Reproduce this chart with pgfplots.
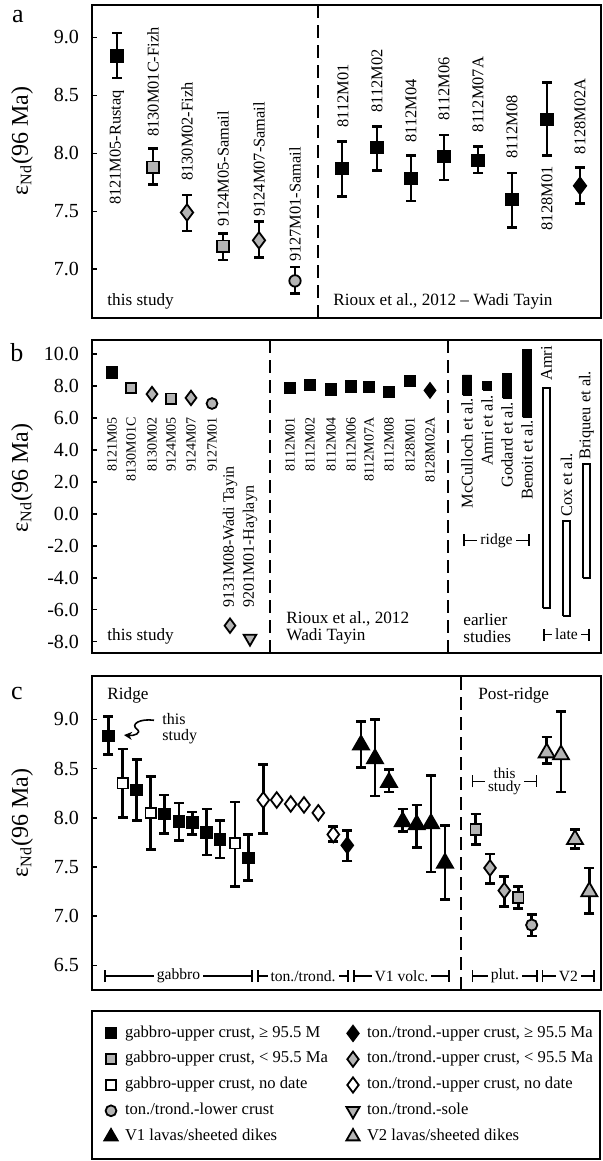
\documentclass[border=0pt]{standalone}
\usepackage{pgfplots}
\pgfplotsset{compat=1.18}
\usepackage{fontspec}
\setmainfont{Liberation Serif}
\usetikzlibrary{arrows.meta}
\definecolor{mygray}{RGB}{180,180,180}
\newcommand\fsz[2]{\fontsize{#1}{#2}\selectfont}
\pgfplotsset{
  panel/.style={
    scale only axis, width=254.5pt, anchor=south west,
    xmin=92, xmax=601, xtick=\empty, clip=false,
    axis line style={line width=1pt},
    ytick pos=left, tick align=inside, major tick length=2.5pt,
    tick style={black, line width=0.8pt},
    yticklabel style={font=\fsz{10}{12}, xshift=-3pt},
    ylabel={ε\textsubscript{Nd}(96 Ma)},
  },
  eb/.style={error bars/.cd, y dir=both, y explicit,
     error bar style={line width=1.3pt},
     error mark options={line width=1.3pt, mark size=2.5pt, rotate=90}},
  mk/.style 2 args={only marks, black, mark=#1, mark options={solid, fill=#2, draw=black, line width=0.9pt}},
}
\newcommand\brk[4]{\draw[line width=0.8pt, {Bar[width=6pt]}-{Bar[width=6pt]}] (axis cs:#1,#3) -- (axis cs:#2,#3) node[midway, fill=white, inner xsep=1.5pt, inner ysep=0pt, font=\fsz{7.8}{8}] {#4};}
\newcommand\vl[2]{\node[rotate=90, anchor=west, inner sep=0pt, font=\fsz{#2}{#2}] at #1;}
\begin{document}
\begin{tikzpicture}
\useasboundingbox (0,0) rectangle (301.5pt,580.5pt);
\node[font=\fsz{13}{13}] at (9pt,572pt) {a};
\node[font=\fsz{13}{13}] at (8.5pt,404pt) {b};
\node[font=\fsz{13}{13}] at (8.5pt,233.5pt) {c};

% ---------------- panel a
\begin{axis}[panel, at={(46pt,421.5pt)}, height=156.5pt,
  ymin=6.58, ymax=9.28, ytick={7,7.5,8,8.5,9}, yticklabels={7.0,7.5,8.0,8.5,9.0},
  ylabel style={font=\fsz{12}{14}, at={(axis description cs:-0.1375,0.565)}, anchor=center}]
\draw[line width=1.1pt, dash pattern=on 6.5pt off 3.5pt] (axis cs:318,6.58) -- (axis cs:318,9.28);
\addplot[mk={square*}{black}, mark size=2.85pt, eb] coordinates {
 (117,8.84) += (0,0.20) -= (0,0.19)
 (342,7.87) += (0,0.23) -= (0,0.24)
 (377,8.05) += (0,0.18) -= (0,0.20)
 (411,7.78) += (0,0.20) -= (0,0.19)
 (444,7.97) += (0,0.19) -= (0,0.20)
 (478,7.94) += (0,0.12) -= (0,0.11)
 (512,7.60) += (0,0.23) -= (0,0.24)
 (547,8.29) += (0,0.32) -= (0,0.31)
};
\addplot[mk={square*}{mygray}, mark size=2.85pt, eb] coordinates {
 (153,7.88) += (0,0.16) -= (0,0.15)
 (223,7.20) += (0,0.11) -= (0,0.12)
};
\addplot[mk={diamond*}{mygray}, mark size=4.1pt, eb] coordinates {
 (187,7.49) += (0,0.15) -= (0,0.16)
 (259,7.25) += (0,0.16) -= (0,0.15)
};
\addplot[mk={*}{mygray}, mark size=2.85pt, eb] coordinates {
 (295,6.90) += (0,0.12) -= (0,0.11)
};
\addplot[mk={diamond*}{black}, mark size=4.1pt, eb] coordinates {
 (580,7.72) += (0,0.16) -= (0,0.15)
};
\node[rotate=90, anchor=east, inner sep=0pt, font=\fsz{8.2}{9}] at (axis cs:117,8.55) {8121M05-Rustaq};
\vl{(axis cs:153,8.14) {8130M01C-Fizh}}{8.2}
\vl{(axis cs:187,7.76) {8130M02-Fizh}}{8.2}
\vl{(axis cs:223,7.37) {9124M05-Samail}}{8.2}
\vl{(axis cs:259,7.45) {9124M07-Samail}}{8.2}
\vl{(axis cs:295,7.06) {9127M01-Samail}}{8.2}
\vl{(axis cs:343,8.22) {8112M01}}{8.2}
\vl{(axis cs:377,8.35) {8112M02}}{8.2}
\vl{(axis cs:411,8.09) {8112M04}}{8.2}
\vl{(axis cs:444,8.28) {8112M06}}{8.2}
\vl{(axis cs:478,8.18) {8112M07A}}{8.2}
\vl{(axis cs:512,7.95) {8112M08}}{8.2}
\node[rotate=90, anchor=east, inner sep=0pt, font=\fsz{8.2}{9}] at (axis cs:547,7.89) {8128M01};
\vl{(axis cs:580,7.99) {8128M02A}}{8.2}
\node[anchor=west, inner sep=0pt, font=\fsz{8.6}{9}] at (axis cs:107,6.72) {this study};
\node[anchor=west, inner sep=0pt, font=\fsz{8.6}{9}] at (axis cs:333,6.72) {Rioux et al., 2012 – Wadi Tayin};
\end{axis}

% ---------------- panel b
\begin{axis}[panel, at={(46pt,254pt)}, height=156.5pt,
  ymin=-8.71, ymax=10.875, ytick={-8,-6,-4,-2,0,2,4,6,8,10},
  yticklabels={-8.0,-6.0,-4.0,-2.0,0.0,2.0,4.0,6.0,8.0,10.0},
  ylabel style={font=\fsz{12}{14}, at={(axis description cs:-0.1375,0.559)}, anchor=center}]
\draw[line width=1.1pt, dash pattern=on 6.5pt off 3.5pt] (axis cs:270,-8.71) -- (axis cs:270,10.875);
\draw[line width=1.1pt, dash pattern=on 6.5pt off 3.5pt] (axis cs:448,-8.71) -- (axis cs:448,10.875);
\addplot[mk={square*}{black}, mark size=2.6pt] coordinates {
 (112,8.84) (290,7.87) (310,8.05) (331,7.78) (351,7.97) (369,7.94) (389,7.60) (410,8.29)};
\addplot[mk={square*}{mygray}, mark size=2.6pt] coordinates {(131,7.88) (171,7.20)};
\addplot[mk={diamond*}{mygray}, mark size=3.6pt] coordinates {(152,7.49) (191,7.25) (230,-7.0)};
\addplot[mk={*}{mygray}, mark size=2.7pt] coordinates {(212,6.90)};
\addplot[only marks, black, mark=triangle*, mark size=3.6pt, mark options={solid, fill=mygray, draw=black, line width=0.9pt, rotate=180}] coordinates {(250,-7.8)};
\addplot[mk={diamond*}{black}, mark size=3.6pt] coordinates {(430,7.72)};
% earlier studies
\addplot[black, fill=black, line width=0.3pt] coordinates {(462.5,7.43) (471.5,7.43) (471.5,8.69) (462.5,8.69) (462.5,7.43)};
\addplot[black, fill=black, line width=0.3pt] coordinates {(482.5,7.75) (491.5,7.75) (491.5,8.27) (482.5,8.27) (482.5,7.75)};
\addplot[black, fill=black, line width=0.3pt] coordinates {(502.5,7.23) (511.5,7.23) (511.5,8.79) (502.5,8.79) (502.5,7.23)};
\addplot[black, fill=black, line width=0.3pt] coordinates {(522.5,6.04) (531.5,6.04) (531.5,10.29) (522.5,10.29) (522.5,6.04)};
\addplot[black, fill=white, line width=0.9pt, line join=miter] coordinates {(543.2,-5.88) (549.8,-5.88) (549.8,7.85) (543.2,7.85) (543.2,-5.88)};
\addplot[black, fill=white, line width=0.9pt, line join=miter] coordinates {(563.2,-6.40) (569.8,-6.40) (569.8,-0.43) (563.2,-0.43) (563.2,-6.40)};
\addplot[black, fill=white, line width=0.9pt, line join=miter] coordinates {(583.2,-4.03) (589.8,-4.03) (589.8,3.12) (583.2,3.12) (583.2,-4.03)};
\node[rotate=90, anchor=east, inner sep=0pt, font=\fsz{7}{8}] at (axis cs:112,6.05) {8121M05};
\node[rotate=90, anchor=east, inner sep=0pt, font=\fsz{7}{8}] at (axis cs:131,6.05) {8130M01C};
\node[rotate=90, anchor=east, inner sep=0pt, font=\fsz{7}{8}] at (axis cs:152,6.05) {8130M02};
\node[rotate=90, anchor=east, inner sep=0pt, font=\fsz{7}{8}] at (axis cs:171,6.05) {9124M05};
\node[rotate=90, anchor=east, inner sep=0pt, font=\fsz{7}{8}] at (axis cs:191,6.05) {9124M07};
\node[rotate=90, anchor=east, inner sep=0pt, font=\fsz{7}{8}] at (axis cs:212,6.05) {9127M01};
\node[rotate=90, anchor=east, inner sep=0pt, font=\fsz{7}{8}] at (axis cs:290,6.05) {8112M01};
\node[rotate=90, anchor=east, inner sep=0pt, font=\fsz{7}{8}] at (axis cs:310,6.05) {8112M02};
\node[rotate=90, anchor=east, inner sep=0pt, font=\fsz{7}{8}] at (axis cs:331,6.05) {8112M04};
\node[rotate=90, anchor=east, inner sep=0pt, font=\fsz{7}{8}] at (axis cs:351,6.05) {8112M06};
\node[rotate=90, anchor=east, inner sep=0pt, font=\fsz{7}{8}] at (axis cs:369,6.05) {8112M07A};
\node[rotate=90, anchor=east, inner sep=0pt, font=\fsz{7}{8}] at (axis cs:389,6.05) {8112M08};
\node[rotate=90, anchor=east, inner sep=0pt, font=\fsz{7}{8}] at (axis cs:410,6.05) {8128M01};
\node[rotate=90, anchor=east, inner sep=0pt, font=\fsz{7}{8}] at (axis cs:430,6.05) {8128M02A};
\vl{(axis cs:230,-5.9) {9131M08-Wadi Tayin}}{8}
\vl{(axis cs:250,-5.9) {9201M01-Haylayn}}{8}
\node[rotate=90, anchor=east, inner sep=0pt, font=\fsz{8.2}{9}] at (axis cs:467,7.25) {McCulloch et al.};
\node[rotate=90, anchor=east, inner sep=0pt, font=\fsz{8.2}{9}] at (axis cs:487,7.44) {Amri et al.};
\node[rotate=90, anchor=east, inner sep=0pt, font=\fsz{8.2}{9}] at (axis cs:507,7.0) {Godard et al.};
\node[rotate=90, anchor=east, inner sep=0pt, font=\fsz{8.2}{9}] at (axis cs:527,5.88) {Benoit et al.};
\vl{(axis cs:546.5,8.3) {Amri}}{8.2}
\vl{(axis cs:566.5,-0.2) {Cox et al.}}{8.2}
\vl{(axis cs:586.5,3.35) {Briqueu et al.}}{8.2}
\brk{463}{530}{-1.67}{ridge}
\brk{543}{590}{-7.56}{late}
\node[anchor=west, inner sep=0pt, align=left, font=\fsz{8.6}{8.5}] at (axis cs:463,-7.16) {earlier\\studies};
\node[anchor=west, inner sep=0pt, align=left, font=\fsz{8.6}{8.5}] at (axis cs:286,-7.16) {Rioux et al., 2012\\Wadi Tayin};
\node[anchor=west, inner sep=0pt, font=\fsz{8.6}{9}] at (axis cs:107,-7.7) {this study};
\end{axis}

% ---------------- panel c
\begin{axis}[panel, at={(46pt,85.5pt)}, height=157pt,
  ymin=6.25, ymax=9.44, ytick={6.5,7,7.5,8,8.5,9}, yticklabels={6.5,7.0,7.5,8.0,8.5,9.0},
  ylabel style={font=\fsz{12}{14}, at={(axis description cs:-0.1375,0.532)}, anchor=center}]
\draw[line width=1.1pt, dash pattern=on 6.5pt off 3.5pt] (axis cs:461,6.25) -- (axis cs:461,9.44);
\addplot[mk={square*}{black}, mark size=2.7pt, eb] coordinates {
 (108.3,8.83) += (0,0.20) -= (0,0.19)
 (136.7,8.28) += (0,0.31) -= (0,0.31)
 (164.3,8.04) += (0,0.19) -= (0,0.20)
 (179.0,7.96) += (0,0.19) -= (0,0.19)
 (192.3,7.95) += (0,0.11) -= (0,0.12)
 (206.7,7.85) += (0,0.24) -= (0,0.23)
 (220.0,7.78) += (0,0.19) -= (0,0.19)
 (248.3,7.59) += (0,0.24) -= (0,0.23)
};
\addplot[mk={square*}{white}, mark size=2.6pt, eb] coordinates {
 (122.7,8.35) += (0,0.35) -= (0,0.35)
 (150.7,8.05) += (0,0.37) -= (0,0.37)
 (235.0,7.74) += (0,0.42) -= (0,0.44)
};
\addplot[mk={diamond*}{white}, mark size=3.9pt, eb] coordinates {
 (263.3,8.18) += (0,0.36) -= (0,0.34)
 (333.3,7.83) += (0,0.08) -= (0,0.07)
};
\addplot[mk={diamond*}{white}, mark size=3.9pt] coordinates {
 (276.7,8.18) (290.7,8.14) (304.0,8.13) (318.3,8.05)};
\addplot[mk={diamond*}{black}, mark size=3.9pt, eb] coordinates {
 (347.3,7.72) += (0,0.15) -= (0,0.16)
};
\addplot[mk={triangle*}{black}, mark size=4.6pt, eb] coordinates {
 (361.0,8.74) += (0,0.24) -= (0,0.23)
 (375.0,8.60) += (0,0.40) -= (0,0.38)
 (389.0,8.36) += (0,0.13) -= (0,0.10)
 (402.7,7.96) += (0,0.13) -= (0,0.10)
 (416.7,7.93) += (0,0.20) -= (0,0.23)
 (431.0,7.94) += (0,0.49) -= (0,0.49)
 (445.0,7.54) += (0,0.38) -= (0,0.37)
};
\addplot[mk={square*}{mygray}, mark size=2.6pt, eb] coordinates {
 (475.7,7.88) += (0,0.16) -= (0,0.15)
 (518.3,7.19) += (0,0.11) -= (0,0.11)
};
\addplot[mk={diamond*}{mygray}, mark size=3.9pt, eb] coordinates {
 (490.0,7.49) += (0,0.14) -= (0,0.16)
 (504.3,7.26) += (0,0.14) -= (0,0.16)
};
\addplot[mk={*}{mygray}, mark size=2.8pt, eb] coordinates {
 (531.7,6.91) += (0,0.11) -= (0,0.11)
};
\addplot[mk={triangle*}{mygray}, mark size=4.6pt, eb] coordinates {
 (546.7,8.66) += (0,0.16) -= (0,0.11)
 (561.0,8.64) += (0,0.44) -= (0,0.38)
 (575.0,7.78) += (0,0.10) -= (0,0.09)
 (589.3,7.25) += (0,0.24) -= (0,0.22)
};
\node[anchor=west, inner sep=0pt, font=\fsz{8.6}{9}] at (axis cs:107,9.24) {Ridge};
\node[anchor=west, inner sep=0pt, font=\fsz{8.6}{9}] at (axis cs:478,9.24) {Post-ridge};
\node[anchor=west, inner sep=0pt, align=left, font=\fsz{8}{8}] at (axis cs:162,8.90) {this\\study};
\draw[line width=0.8pt, -{Stealth[length=4pt,width=4pt]}] (axis cs:154,8.99) .. controls (axis cs:140,9.01) and (axis cs:130,8.95) .. (axis cs:137,8.90) .. controls (axis cs:142,8.86) and (axis cs:134,8.83) .. (axis cs:124,8.84);
\draw[line width=0.8pt, {Bar[width=6pt]}-{Bar[width=6pt]}] (axis cs:471.7,8.37) -- (axis cs:537.3,8.37) node[midway, fill=white, inner xsep=1.5pt, inner ysep=0pt, align=center, font=\fsz{7.6}{6.5}] {this\\study};
\brk{104}{253}{6.39}{gabbro}
\brk{257}{349}{6.39}{ton./trond.}
\brk{353}{450}{6.39}{V1 volc.}
\brk{471.7}{538}{6.39}{plut.}
\brk{541.7}{595}{6.39}{V2}
\end{axis}

% ---------------- legend
\begin{axis}[at={(45.5pt,1.5pt)}, anchor=south west, scale only axis, width=254pt, height=74pt,
  hide axis, xmin=0, xmax=1, ymin=0, ymax=1,
  legend columns=2, legend cell align=left,
  legend style={at={(0,1)}, anchor=north west, draw=black, line width=1pt,
    inner xsep=3.5pt, inner ysep=7.2pt, row sep=4.9pt, column sep=1pt,
    font=\fsz{8.3}{9}, nodes={inner sep=0pt, text depth=0.2em}},
  legend image code/.code={\path[draw=none, fill=none] (0pt,-4pt) rectangle (12pt,4pt);
    \draw[mark repeat=2,mark phase=2,#1] plot coordinates {(0pt,0pt) (6pt,0pt) (12pt,0pt)};}]
\addlegendimage{only marks, black, mark=square*, mark size=2.6pt, mark options={solid, fill=black, draw=black, line width=0.9pt}}
\addlegendentry{\makebox[107pt][l]{gabbro-upper crust, ≥ 95.5 M}}
\addlegendimage{only marks, black, mark=diamond*, mark size=3.8pt, mark options={solid, fill=black, draw=black, line width=0.9pt}}
\addlegendentry{\makebox[113pt][l]{ton./trond.-upper crust, ≥ 95.5 Ma}}
\addlegendimage{only marks, black, mark=square*, mark size=2.6pt, mark options={solid, fill=mygray, draw=black, line width=0.9pt}}
\addlegendentry{gabbro-upper crust, < 95.5 Ma}
\addlegendimage{only marks, black, mark=diamond*, mark size=3.8pt, mark options={solid, fill=mygray, draw=black, line width=0.9pt}}
\addlegendentry{ton./trond.-upper crust, < 95.5 Ma}
\addlegendimage{only marks, black, mark=square*, mark size=2.6pt, mark options={solid, fill=white, draw=black, line width=0.9pt}}
\addlegendentry{gabbro-upper crust, no date}
\addlegendimage{only marks, black, mark=diamond*, mark size=3.8pt, mark options={solid, fill=white, draw=black, line width=0.9pt}}
\addlegendentry{ton./trond.-upper crust, no date}
\addlegendimage{only marks, black, mark=*, mark size=2.7pt, mark options={solid, fill=mygray, draw=black, line width=0.9pt}}
\addlegendentry{ton./trond.-lower crust}
\addlegendimage{only marks, black, mark=triangle*, mark size=3.8pt, mark options={solid, fill=mygray, draw=black, line width=0.9pt, rotate=180}}
\addlegendentry{ton./trond.-sole}
\addlegendimage{only marks, black, mark=triangle*, mark size=3.8pt, mark options={solid, fill=black, draw=black, line width=0.9pt}}
\addlegendentry{V1 lavas/sheeted dikes}
\addlegendimage{only marks, black, mark=triangle*, mark size=3.8pt, mark options={solid, fill=mygray, draw=black, line width=0.9pt}}
\addlegendentry{V2 lavas/sheeted dikes}
\end{axis}
\end{tikzpicture}
\end{document}
